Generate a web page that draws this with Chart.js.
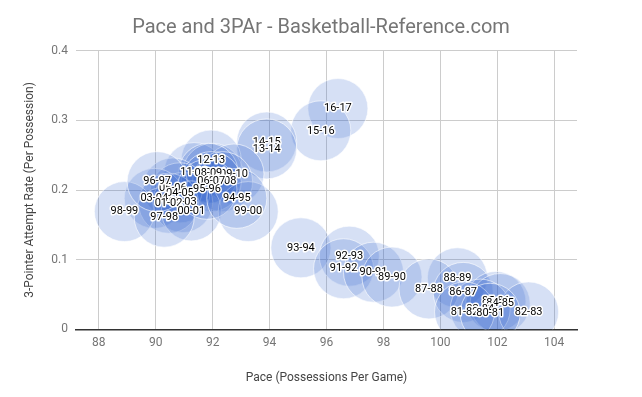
<!DOCTYPE html>
<html>
<head>
<meta charset="utf-8">
<script src="https://cdn.jsdelivr.net/npm/chart.js@4/dist/chart.umd.min.js"></script>
<style>
  body { margin: 0; background: #fff; }
  #wrap { width: 642px; height: 397px; position: relative; }
</style>
</head>
<body>
<div id="wrap"><canvas id="grafik"></canvas></div>
<script>
// seasons in chronological order
const seasons = ["80-81", "81-82", "82-83", "83-84", "84-85", "85-86", "86-87", "87-88",
    "88-89", "89-90", "90-91", "91-92", "92-93", "93-94", "94-95", "95-96", "96-97",
    "97-98", "98-99", "99-00", "00-01", "01-02", "02-03", "03-04", "04-05", "05-06",
    "06-07", "07-08", "08-09", "09-10", "10-11", "11-12", "12-13", "13-14", "14-15",
    "15-16", "16-17"];

// pace (possessions per game)
const pace = [101.75, 100.85, 103.1, 101.4, 102.1, 101.95, 100.8, 99.6,
    100.6, 98.3, 97.65, 96.6, 96.8, 95.1, 92.85, 91.8, 90.05,
    90.3, 88.9, 93.25, 91.25, 90.45, 90.95, 89.95, 90.85, 90.6,
    91.95, 92.35, 91.85, 92.75, 92.0, 91.35, 91.95, 93.9, 93.9,
    95.8, 96.4];

// 3-point attempt rate
const tpar = [0.023, 0.025, 0.025, 0.029, 0.037, 0.040, 0.053, 0.058,
    0.074, 0.075, 0.082, 0.087, 0.105, 0.117, 0.188, 0.201, 0.212,
    0.161, 0.169, 0.169, 0.170, 0.181, 0.182, 0.188, 0.196, 0.203,
    0.212, 0.212, 0.224, 0.223, 0.224, 0.225, 0.243, 0.259, 0.269,
    0.285, 0.317];

const xTicks = [88, 90, 92, 94, 96, 98, 100, 102, 104];
const yTicks = [0, 0.1, 0.2, 0.3, 0.4];

// label tiap bubble, digambar di atas semua bubble (musim lama paling atas)
const labelBubble = {
    id: "labelBubble",
    afterDatasetsDraw(chart) {
        const ctx = chart.ctx;
        ctx.save();
        ctx.font = "11px Roboto";
        ctx.textAlign = "center";
        ctx.textBaseline = "middle";
        ctx.lineJoin = "round";
        ctx.lineWidth = 3;
        for (let i = seasons.length - 1; i >= 0; i--) {
            const el = chart.getDatasetMeta(i).data[0];
            if (!el) continue;
            ctx.strokeStyle = "#fff";
            ctx.strokeText(seasons[i], el.x, el.y);
            ctx.fillStyle = "#000";
            ctx.fillText(seasons[i], el.x, el.y);
        }
        ctx.restore();
    }
};

const datasets = seasons.map((s, i) => ({
    label: s,
    data: [{ x: pace[i], y: tpar[i] }],
    backgroundColor: "rgba(51, 102, 204, 0.2)",
    borderColor: "rgba(255, 255, 255, 0.6)",
    borderWidth: 1,
    radius: 30
}));

new Chart(document.getElementById("grafik"), {
    type: "bubble",
    data: { datasets: datasets },
    plugins: [labelBubble],
    options: {
        responsive: true,
        maintainAspectRatio: false,
        animation: false,
        events: [],
        layout: { padding: 0 },
        plugins: {
            legend: { display: false },
            tooltip: { enabled: false },
            title: {
                display: true,
                text: "Pace and 3PAr - Basketball-Reference.com",
                color: "#757575",
                font: { family: "Roboto", size: 20, weight: "normal", lineHeight: 1.2 },
                padding: { top: 16, bottom: 10.7 }
            }
        },
        scales: {
            x: {
                type: "linear",
                min: 87.2,
                max: 104.8,
                afterBuildTicks: s => { s.ticks = xTicks.map(v => ({ value: v })); },
                afterFit: s => { s.height = 67.7; },
                ticks: {
                    color: "#757575",
                    font: { family: "Roboto", size: 12 },
                    padding: 6
                },
                grid: { color: "#cccccc", drawTicks: false },
                border: { display: true, color: "#333333", width: 1.5 },
                title: {
                    display: true,
                    text: "Pace (Possessions Per Game)",
                    color: "#444",
                    font: { family: "Roboto", size: 12 },
                    padding: { top: 0, bottom: 12 }
                }
            },
            y: {
                type: "linear",
                min: 0,
                max: 0.4,
                afterBuildTicks: s => { s.ticks = yTicks.map(v => ({ value: v })); },
                afterFit: s => { s.width = 76; },
                ticks: {
                    color: "#757575",
                    font: { family: "Roboto", size: 12 },
                    padding: 8,
                    callback: v => String(Math.round(v * 10) / 10)
                },
                grid: { color: "#cccccc", drawTicks: false },
                border: { display: false },
                title: {
                    display: true,
                    text: "3-Pointer Attempt Rate (Per Possession)",
                    color: "#444",
                    font: { family: "Roboto", size: 12 },
                    padding: { top: 23, bottom: 0 }
                }
            },
            // ruang kosong di kanan
            kanan: {
                type: "linear",
                position: "right",
                min: 0,
                max: 0.4,
                afterFit: s => { s.width = 65; },
                ticks: { display: false },
                grid: { display: false },
                border: { display: false }
            }
        }
    }
});
</script>
</body>
</html>
